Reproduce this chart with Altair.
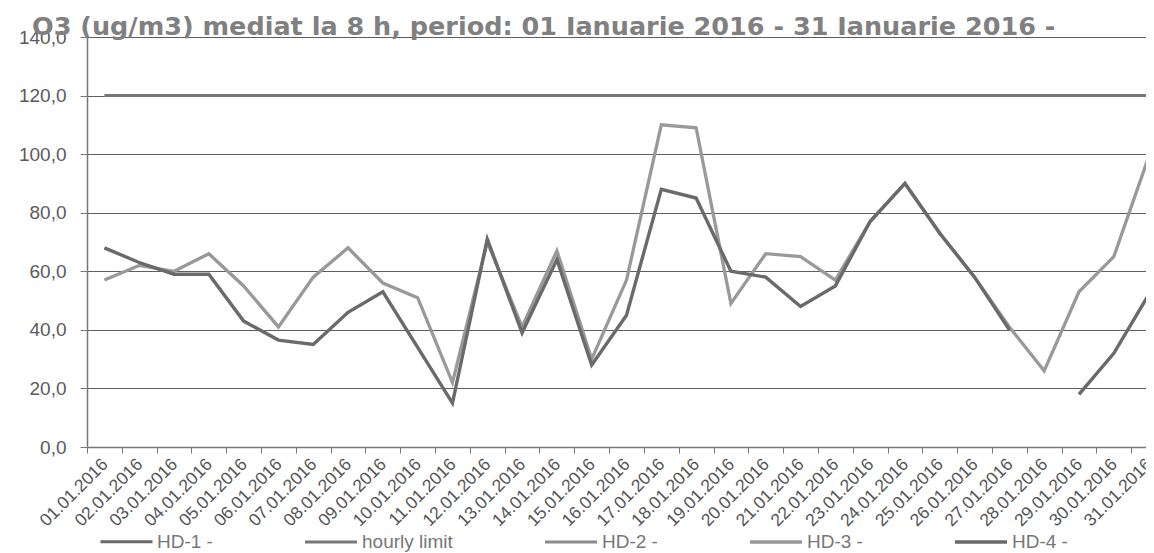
import altair as alt
import pandas as pd

dates = ["01.01.2016", "02.01.2016", "03.01.2016", "04.01.2016", "05.01.2016",
         "06.01.2016", "07.01.2016", "08.01.2016", "09.01.2016", "10.01.2016",
         "11.01.2016", "12.01.2016", "13.01.2016", "14.01.2016", "15.01.2016",
         "16.01.2016", "17.01.2016", "18.01.2016", "19.01.2016", "20.01.2016",
         "21.01.2016", "22.01.2016", "23.01.2016", "24.01.2016", "25.01.2016",
         "26.01.2016", "27.01.2016", "28.01.2016", "29.01.2016", "30.01.2016",
         "31.01.2016"]

hourly_limit = [120, 120, 120, 120, 120, 120, 120, 120, 120, 120,
                120, 120, 120, 120, 120, 120, 120, 120, 120, 120,
                120, 120, 120, 120, 120, 120, 120, 120, 120, 120, 120]

hd3 = [57, 62, 60, 66, 55, 41, 58, 68, 56, 51,
       22, 70, 41, 67, 30, 57, 110, 109, 49, 66,
       65, 57, 77, 90, 73, 58, 41, 26, 53, 65, 99]

hd4 = [68, 63, 59, 59, 43, 36.5, 35, 46, 53, 34,
       15, 71, 39, 64, 28, 45, 88, 85, 60, 58,
       48, 55, 77, 90, 73, 58, 40, None, 18, 32, 52]

series_names = ["HD-1 -", "hourly limit", "HD-2 -", "HD-3 -", "HD-4 -"]
series_colors = ["#6a6a6a", "#777777", "#8c8c8c", "#999999", "#6a6a6a"]
series_widths = [3, 3.4, 3, 3.2, 3.8]
y_ticks = [0, 20, 40, 60, 80, 100, 120, 140]

rows = []
for name, vals in [("hourly limit", hourly_limit), ("HD-3 -", hd3), ("HD-4 -", hd4)]:
    for d, v in zip(dates, vals):
        rows.append({"date": d, "series": name, "value": v})
df = pd.DataFrame(rows)

FONT = "Liberation Sans"

chart = alt.Chart(df).mark_line(strokeJoin="miter", invalid="break-paths-show-domains").encode(
    x=alt.X("date:N", sort=dates, bandPosition=0.5,
            scale=alt.Scale(type="band", domain=dates, range=[0, 1079],
                            paddingInner=0, paddingOuter=0),
            axis=alt.Axis(title=None, tickBand="extent", labelAngle=-45,
                          labelFont=FONT, labelFontSize=17.5, labelColor="#555555",
                          labelPadding=2, labelOffset=-6, labelOverlap=False,
                          labelBound=False,
                          tickColor="#777777", tickSize=6, tickWidth=1,
                          domainColor="#777777", domainWidth=1.5, grid=False)),
    y=alt.Y("value:Q",
            scale=alt.Scale(domain=[0, 140], nice=False, zero=True),
            axis=alt.Axis(title=None, values=y_ticks,
                          labelExpr="replace(format(datum.value, '.1f'), '.', ',')",
                          labelFont=FONT, labelFontSize=19, labelColor="#5a5a5a",
                          labelPadding=14, tickColor="#777777", tickSize=7,
                          domainColor="#777777", domainWidth=1.5,
                          grid=True, gridColor="#5e5e5e", gridWidth=1)),
    color=alt.Color("series:N",
                    scale=alt.Scale(domain=series_names, range=series_colors),
                    legend=alt.Legend(title=None, orient="none", legendX=12, legendY=477,
                                      direction="horizontal", symbolType="stroke",
                                      symbolSize=2704, symbolStrokeWidth=3.5,
                                      labelFont=FONT, labelFontSize=19,
                                      labelColor="#777777", columnPadding=85,
                                      labelOffset=3)),
    strokeWidth=alt.StrokeWidth("series:N",
                                scale=alt.Scale(domain=series_names, range=series_widths),
                                legend=None),
).properties(
    width=1059,
    height=410,
    autosize="none",
    padding={"left": 79, "top": 29, "right": 0, "bottom": 106},
    title=alt.TitleParams(
        "O3 (ug/m3) mediat la 8 h, period: 01 Ianuarie 2016 - 31 Ianuarie 2016 -",
        anchor="start", frame="group", dx=-55, offset=-12, font="DejaVu Sans",
        fontSize=25.5, fontWeight="bold", color="#808080"),
).configure_view(
    stroke=None, fill="#f5f5f5"
).configure(background="white")

chart.save("out.html", embed_options={"renderer": "svg", "actions": False})
